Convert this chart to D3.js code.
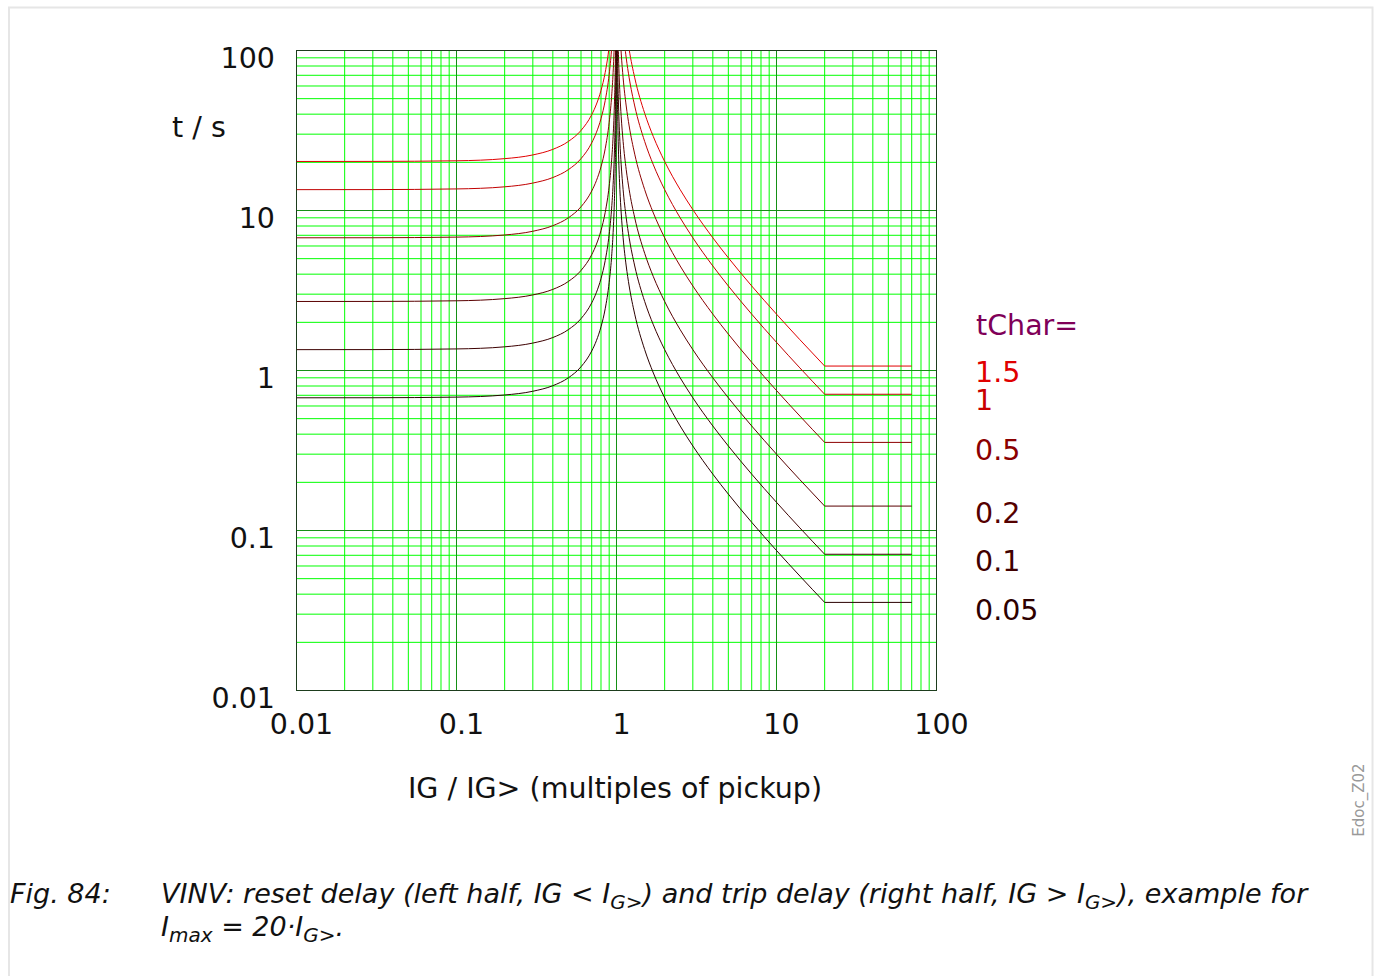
<!DOCTYPE html>
<html><head><meta charset="utf-8">
<script src="https://cdn.jsdelivr.net/npm/d3@7"></script>
<style>
html,body{margin:0;padding:0;background:#fff;}
svg{display:block;font-family:"DejaVu Sans",sans-serif;}
</style></head>
<body>
<svg id="chart" width="1377" height="976"></svg>
<script>
// ---- data ----
const tChars = [1.5, 1, 0.5, 0.2, 0.1, 0.05];
const curveColors = ["#e00000", "#c00000", "#8c0000", "#5a0000", "#3c0000", "#2a0000"];
const labelColors = ["#e00000", "#c80000", "#8b0000", "#550000", "#400000", "#2d0000"];
const legendLabels = ["1.5", "1", "0.5", "0.2", "0.1", "0.05"];

// reset delay (left half): current multiples and times per tChar
const resetX = [0.01, 0.03, 0.1, 0.2, 0.3, 0.4, 0.5, 0.6, 0.7, 0.75, 0.8, 0.85, 0.9, 0.93, 0.95, 0.97, 0.98, 0.99, 0.995, 0.998];
const resetT_15  = [20.25, 20.27, 20.45, 21.09, 22.25, 24.11, 27.0, 31.64, 39.71, 46.29, 56.25, 72.97, 106.6, 149.9, 207.7, 342.6, 511.4, 1017.6, 2030, 5068];
const resetT_1   = [13.50, 13.51, 13.64, 14.06, 14.84, 16.07, 18.0, 21.09, 26.47, 30.86, 37.50, 48.65, 71.05, 99.93, 138.5, 228.4, 340.9, 678.4, 1353, 3378];
const resetT_05  = [6.75, 6.756, 6.818, 7.031, 7.418, 8.036, 9.0, 10.55, 13.24, 15.43, 18.75, 24.32, 35.53, 49.96, 69.23, 114.2, 170.5, 339.2, 676.7, 1689];
const resetT_02  = [2.70, 2.702, 2.727, 2.813, 2.967, 3.214, 3.6, 4.219, 5.294, 6.171, 7.50, 9.730, 14.21, 19.99, 27.69, 45.69, 68.18, 135.7, 270.7, 675.7];
const resetT_01  = [1.35, 1.351, 1.364, 1.406, 1.484, 1.607, 1.8, 2.109, 2.647, 3.086, 3.75, 4.865, 7.105, 9.993, 13.85, 22.84, 34.09, 67.84, 135.3, 337.8];
const resetT_005 = [0.675, 0.6756, 0.6818, 0.7031, 0.7418, 0.8036, 0.9, 1.055, 1.324, 1.543, 1.875, 2.432, 3.553, 4.996, 6.923, 11.42, 17.05, 33.92, 67.67, 168.9];

// trip delay (right half): current multiples and times per tChar (constant beyond Imax = 20)
const tripX = [1.002, 1.005, 1.01, 1.02, 1.03, 1.05, 1.07, 1.1, 1.15, 1.2, 1.3, 1.5, 1.7, 2, 2.5, 3, 4, 5, 7, 10, 14, 20];
const tripT_15  = [10125, 4050, 2025, 1012.5, 675, 405, 289.3, 202.5, 135, 101.25, 67.5, 40.5, 28.93, 20.25, 13.5, 10.125, 6.75, 5.063, 3.375, 2.25, 1.558, 1.066];
const tripT_1   = [6750, 2700, 1350, 675, 450, 270, 192.9, 135, 90, 67.5, 45, 27, 19.29, 13.5, 9.0, 6.75, 4.5, 3.375, 2.25, 1.5, 1.038, 0.7105];
const tripT_05  = [3375, 1350, 675, 337.5, 225, 135, 96.43, 67.5, 45, 33.75, 22.5, 13.5, 9.643, 6.75, 4.5, 3.375, 2.25, 1.688, 1.125, 0.75, 0.5192, 0.3553];
const tripT_02  = [1350, 540, 270, 135, 90, 54, 38.57, 27, 18, 13.5, 9.0, 5.4, 3.857, 2.7, 1.8, 1.35, 0.9, 0.675, 0.45, 0.3, 0.2077, 0.1421];
const tripT_01  = [675, 270, 135, 67.5, 45, 27, 19.29, 13.5, 9.0, 6.75, 4.5, 2.7, 1.929, 1.35, 0.9, 0.675, 0.45, 0.3375, 0.225, 0.15, 0.1038, 0.07105];
const tripT_005 = [337.5, 135, 67.5, 33.75, 22.5, 13.5, 9.643, 6.75, 4.5, 3.375, 2.25, 1.35, 0.9643, 0.675, 0.45, 0.3375, 0.225, 0.1688, 0.1125, 0.075, 0.05192, 0.03553];
const flatX = [20, 70];

const resetSeries = [resetT_15, resetT_1, resetT_05, resetT_02, resetT_01, resetT_005];
const tripSeries  = [tripT_15, tripT_1, tripT_05, tripT_02, tripT_01, tripT_005];

const xTickValues = [0.01, 0.1, 1, 10, 100];
const xTickLabels = ["0.01", "0.1", "1", "10", "100"];
const yTickValues = [100, 10, 1, 0.1, 0.01];
const yTickLabels = ["100", "10", "1", "0.1", "0.01"];

// ---- drawing ----
const svg = d3.select("#chart");
const L = 296.5, R = 936.5, T = 50.5, B = 690.5;
const x = d3.scaleLog().domain([0.01, 100]).range([L, R]);
const y = d3.scaleLog().domain([0.01, 100]).range([B, T]);

// page frame
svg.append("rect").attr("x", 9).attr("y", 7.5).attr("width", 1363.5).attr("height", 1000)
  .attr("fill", "none").attr("stroke", "#e6e6e6").attr("stroke-width", 2);

// grid
const minor = [];
for (let e = -2; e < 2; e++) for (let m = 2; m <= 9; m++) minor.push(m * Math.pow(10, e));
const major = [0.01, 0.1, 1, 10, 100];
const grid = svg.append("g");
grid.selectAll(".vmin").data(minor).join("line")
  .attr("x1", d => x(d)).attr("x2", d => x(d)).attr("y1", T).attr("y2", B)
  .attr("stroke", "#00ff00").attr("stroke-width", 1);
grid.selectAll(".hmin").data(minor).join("line")
  .attr("y1", d => y(d)).attr("y2", d => y(d)).attr("x1", L).attr("x2", R)
  .attr("stroke", "#00ff00").attr("stroke-width", 1);
grid.selectAll(".vmaj").data(major).join("line")
  .attr("x1", d => x(d)).attr("x2", d => x(d)).attr("y1", T).attr("y2", B)
  .attr("stroke", "#159015").attr("stroke-width", 1);
grid.selectAll(".hmaj").data(major).join("line")
  .attr("y1", d => y(d)).attr("y2", d => y(d)).attr("x1", L).attr("x2", R)
  .attr("stroke", "#159015").attr("stroke-width", 1);
svg.append("rect").attr("x", L).attr("y", T).attr("width", R - L).attr("height", B - T)
  .attr("fill", "none").attr("stroke", "#1d3d1d").attr("stroke-width", 1);

// clip
svg.append("clipPath").attr("id", "clip").append("rect")
  .attr("x", L).attr("y", T).attr("width", R - L).attr("height", B - T);

const curves = svg.append("g").attr("clip-path", "url(#clip)");
const line = d3.line().x(d => x(d[0])).y(d => y(d[1])).curve(d3.curveMonotoneX);
const lineLin = d3.line().x(d => x(d[0])).y(d => y(d[1]));

// draw darkest first, red on top
for (let i = tChars.length - 1; i >= 0; i--) {
  const rs = resetX.map((v, k) => [v, resetSeries[i][k]]);
  const ts = tripX.map((v, k) => [v, tripSeries[i][k]]);
  const last = tripSeries[i][tripSeries[i].length - 1];
  const fl = flatX.map(v => [v, last]);
  [line(rs), line(ts), lineLin(fl)].forEach(p =>
    curves.append("path").attr("d", p).attr("fill", "none")
      .attr("stroke", curveColors[i]).attr("stroke-width", 1));
}

// axes labels
const fs = 28.5;
svg.selectAll(".xt").data(xTickValues).join("text")
  .attr("x", d => x(d) + 5).attr("y", 734).attr("text-anchor", "middle")
  .attr("font-size", fs).attr("fill", "#111").text((d, i) => xTickLabels[i]);
svg.selectAll(".yt").data(yTickValues).join("text")
  .attr("x", 275).attr("y", d => y(d) + 17).attr("text-anchor", "end")
  .attr("font-size", fs).attr("fill", "#111").text((d, i) => yTickLabels[i]);
svg.append("text").attr("x", 172).attr("y", 137).attr("font-size", fs).attr("fill", "#111").text("t / s");
svg.append("text").attr("x", 615).attr("y", 798).attr("text-anchor", "middle")
  .attr("font-size", fs).attr("fill", "#111").text("IG / IG> (multiples of pickup)");

// legend
const legendY = [382, 410, 460, 523, 571, 620];
svg.append("text").attr("x", 976).attr("y", 335).attr("font-size", fs).attr("fill", "#800058").text("tChar=");
svg.selectAll(".lg").data(legendLabels).join("text")
  .attr("x", 975).attr("y", (d, i) => legendY[i]).attr("font-size", fs)
  .attr("fill", (d, i) => labelColors[i]).text(d => d);

// watermark
svg.append("text").attr("transform", "translate(1364,800) rotate(-90)")
  .attr("text-anchor", "middle").attr("font-size", 15).attr("fill", "#999").text("Edoc_Z02");

// caption
const cfs = 27, sfs = 20;
const cap = svg.append("g").attr("font-style", "italic").attr("font-size", cfs).attr("fill", "#111");
cap.append("text").attr("x", 10).attr("y", 903).text("Fig. 84:");
const l1 = cap.append("text").attr("x", 161).attr("y", 903);
function sub(t, s) {
  t.append("tspan").attr("font-size", sfs).attr("dy", 6).text(s);
}
function norm(t, s) {
  t.append("tspan").attr("dy", -6).text(s);
}
l1.append("tspan").text("VINV: reset delay (left half, IG < I");
sub(l1, "G>");
norm(l1, ") and trip delay (right half, IG > I");
sub(l1, "G>");
norm(l1, "), example for");
const l2 = cap.append("text").attr("x", 161).attr("y", 936);
l2.append("tspan").text("I");
sub(l2, "max");
norm(l2, " = 20·I");
sub(l2, "G>");
norm(l2, ".");
</script>
</body></html>
